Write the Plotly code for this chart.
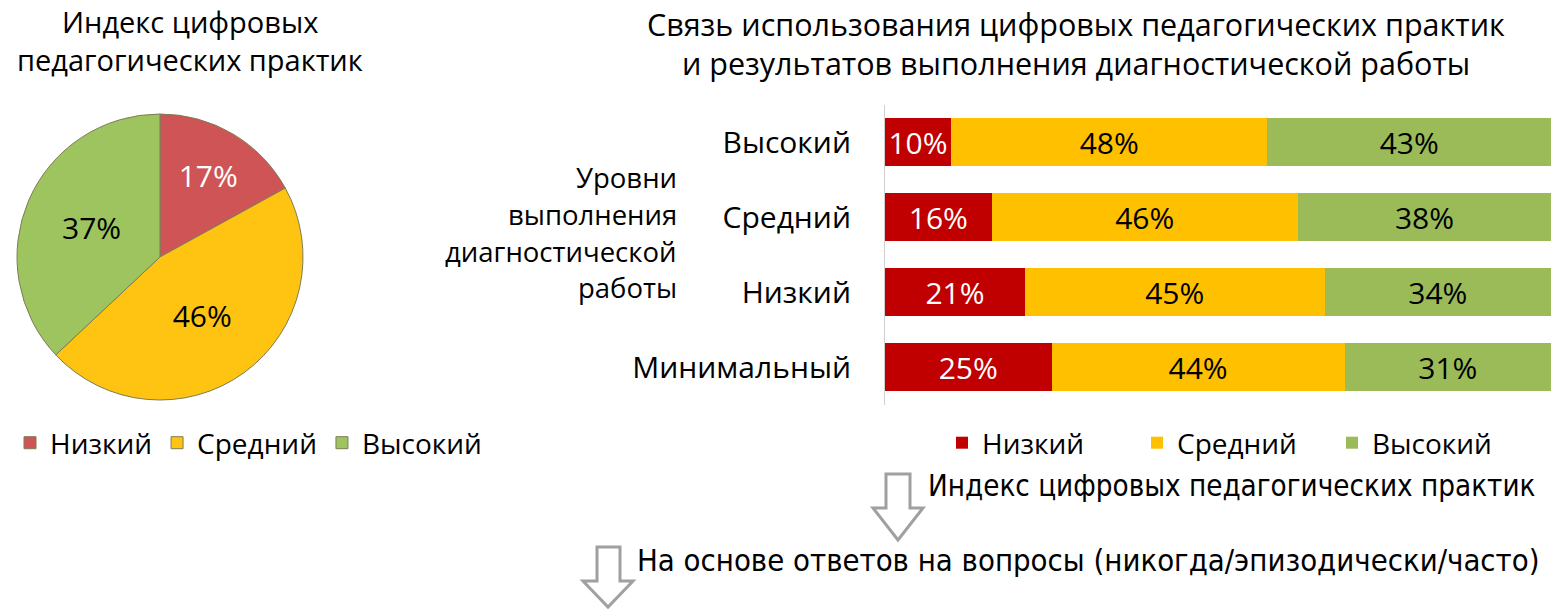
import plotly.graph_objects as go

W, H = 1568, 610

# ---- data ----
pie_labels = ["Низкий", "Средний", "Высокий"]
pie_values = [17, 46, 37]

bar_levels = ["Высокий", "Средний", "Низкий", "Минимальный"]
bar_low = [10, 16, 21, 25]
bar_mid = [48, 46, 45, 44]
bar_high = [43, 38, 34, 31]

pie_title = ["Индекс цифровых", "педагогических практик"]
bar_title = ["Связь использования цифровых педагогических практик",
             "и результатов выполнения диагностической работы"]
side_label = ["Уровни", "выполнения", "диагностической", "работы"]
arrow_texts = ["Индекс цифровых педагогических практик",
               "На основе ответов на вопросы (никогда/эпизодически/часто)"]

FONT = "Open Sans, Noto Sans, sans-serif"
NARROW = "Liberation Sans Narrow, DejaVu Sans Condensed, Roboto Condensed, Liberation Sans, sans-serif"

def px(x):
    return x / W

def py(y):
    return 1 - y / H

fig = go.Figure()

# ---- pie ----
fig.add_trace(go.Pie(
    labels=pie_labels, values=pie_values, sort=False, direction="clockwise",
    rotation=0,
    marker=dict(colors=["#CF5456", "#FFC411", "#9DC45E"],
                line=dict(color="#7d7d55", width=1)),
    texttemplate="%{value}%",
    textposition="inside", insidetextorientation="horizontal",
    textfont=dict(family=FONT, size=30, color=["white", "black", "black"]),
    domain=dict(x=[px(17), px(303)], y=[py(400), py(114)]),
    legend="legend", showlegend=True, hoverinfo="label+percent",
))

# ---- stacked bars ----
series = [("Низкий", bar_low, "#C00000", "white"),
          ("Средний", bar_mid, "#FFC000", "black"),
          ("Высокий", bar_high, "#9BBB59", "black")]
for name, vals, col, tcol in series:
    fig.add_trace(go.Bar(
        y=bar_levels, x=vals, name=name, orientation="h",
        marker=dict(color=col, line=dict(width=0)),
        text=[f"{v}%" for v in vals], textposition="inside",
        insidetextanchor="middle", textangle=0,
        textfont=dict(family=FONT, size=30, color=tcol),
        legend="legend2", xaxis="x", yaxis="y",
    ))

fig.update_layout(
    width=W, height=H,
    margin=dict(l=0, r=0, t=0, b=0),
    paper_bgcolor="white", plot_bgcolor="white",
    font=dict(family=FONT, size=28, color="black"),
    barmode="stack", barnorm="percent", bargap=0.35,
    xaxis=dict(domain=[px(885), px(1551)], range=[0, 100], visible=False,
               fixedrange=True),
    yaxis=dict(domain=[py(404.5), py(104.5)], categoryorder="array",
               categoryarray=bar_levels, autorange="reversed",
               showline=True, linecolor="#D0D0D0", linewidth=1,
               showgrid=False, ticks="", ticklabelstandoff=27,
               tickfont=dict(family=FONT, size=30, color="black")),
    legend=dict(orientation="h", x=px(10), xanchor="left", y=py(443),
                yanchor="middle", font=dict(family=FONT, size=28),
                bgcolor="rgba(0,0,0,0)", traceorder="normal"),
    legend2=dict(orientation="h", x=px(942), xanchor="left", y=py(443),
                 yanchor="middle", font=dict(family=FONT, size=28),
                 bgcolor="rgba(0,0,0,0)", traceorder="normal",
                 entrywidth=150, entrywidthmode="pixels"),
    showlegend=True,
)

anns = []
for i, t in enumerate(pie_title):
    anns.append(dict(text=t, x=px(190), y=py(22 + 37 * i), xref="paper", yref="paper",
                     xanchor="center", yanchor="middle", showarrow=False,
                     font=dict(family=FONT, size=29)))
for i, t in enumerate(bar_title):
    anns.append(dict(text=t, x=px(1076), y=py(24 + 39 * i), xref="paper", yref="paper",
                     xanchor="center", yanchor="middle", showarrow=False,
                     font=dict(family=FONT, size=30.5)))
for i, t in enumerate(side_label):
    anns.append(dict(text=t, x=px(679), y=py(178 + 36.5 * i), xref="paper", yref="paper",
                     xanchor="right", yanchor="middle", showarrow=False,
                     font=dict(family=FONT, size=27.5)))
anns.append(dict(text=arrow_texts[0], x=px(926), y=py(486), xref="paper", yref="paper",
                 xanchor="left", yanchor="middle", showarrow=False,
                 font=dict(family=NARROW, size=29.3)))
anns.append(dict(text=arrow_texts[1], x=px(635), y=py(560), xref="paper", yref="paper",
                 xanchor="left", yanchor="middle", showarrow=False,
                 font=dict(family=NARROW, size=30.8)))
fig.update_layout(annotations=anns)

def arrow_path(x0, x1, hx0, hx1, ytop, yhead, ytip):
    xm = (hx0 + hx1) / 2
    pts = [(x0, ytop), (x1, ytop), (x1, yhead), (hx1, yhead), (xm, ytip),
           (hx0, yhead), (x0, yhead)]
    return "M " + " L ".join(f"{px(a):.5f},{py(b):.5f}" for a, b in pts) + " Z"

shapes = []
for geo in [(886, 910, 873, 923, 474, 508, 540), (597, 620, 583, 633, 547, 581, 607)]:
    shapes.append(dict(type="path", path=arrow_path(*geo), xref="paper", yref="paper",
                       line=dict(color="#A0A0A0", width=3), fillcolor="white"))
fig.update_layout(shapes=shapes)

fig.write_html("out.html")
